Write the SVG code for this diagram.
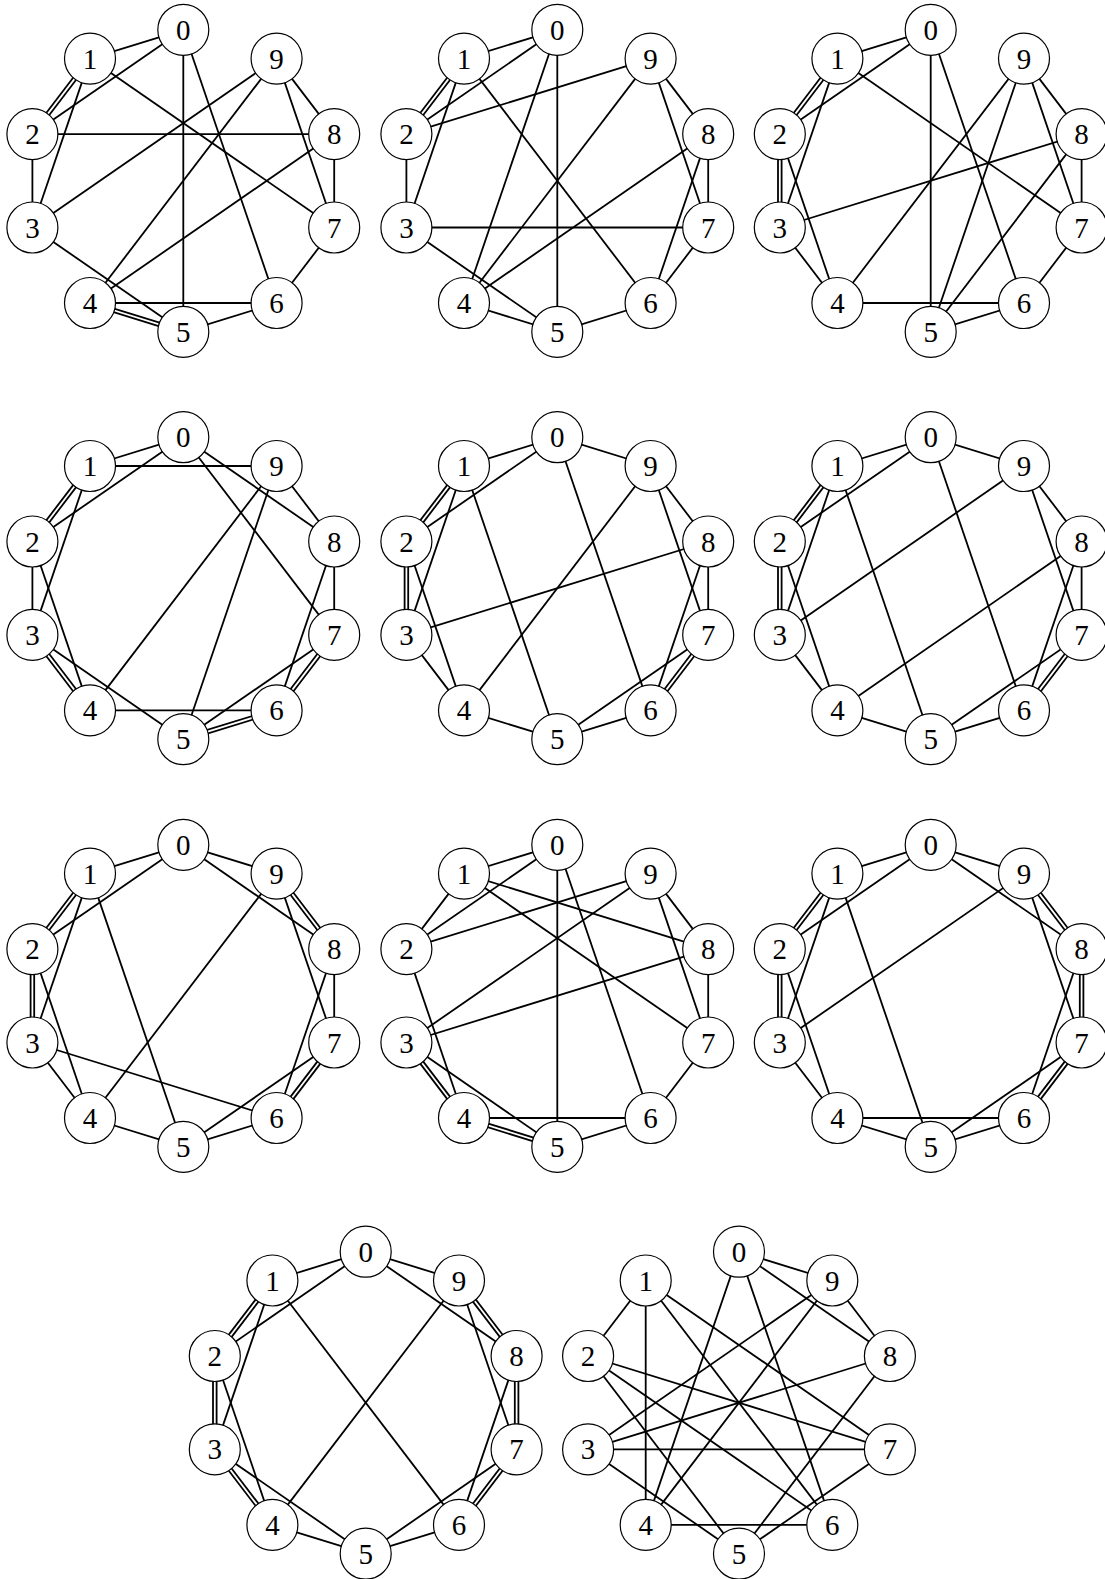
<svg xmlns="http://www.w3.org/2000/svg" width="1105" height="1579" viewBox="0 0 1105 1579">
<style>
.e{stroke:#000;stroke-width:1.8;fill:none}
circle{fill:#fff;stroke:#000;stroke-width:1.2}
text{font-family:"Liberation Serif","DejaVu Serif",serif;font-size:29px;text-anchor:middle;fill:#000}
</style>
<rect width="1105" height="1579" fill="#fff"/>

<!-- Graph 1 -->
<g id="graph1" transform="translate(183.3,180.8)">
<g id="graph1-edges">
<line class="e" x1="0" y1="-151" x2="-93.3" y2="-122.2"/>
<line class="e" x1="0" y1="-151" x2="-150.9" y2="-46.7"/>
<line class="e" x1="0" y1="-151" x2="0" y2="151"/>
<line class="e" x1="0" y1="-151" x2="93.3" y2="122.2"/>
<line class="e" x1="-93.3" y1="-122.2" x2="-150.9" y2="-46.7" transform="translate(1.43,1.09)"/>
<line class="e" x1="-93.3" y1="-122.2" x2="-150.9" y2="-46.7" transform="translate(-1.43,-1.09)"/>
<line class="e" x1="-93.3" y1="-122.2" x2="-150.9" y2="46.7"/>
<line class="e" x1="-93.3" y1="-122.2" x2="150.9" y2="46.7"/>
<line class="e" x1="-150.9" y1="-46.7" x2="-150.9" y2="46.7"/>
<line class="e" x1="-150.9" y1="-46.7" x2="150.9" y2="-46.7"/>
<line class="e" x1="-150.9" y1="46.7" x2="93.3" y2="-122.2"/>
<line class="e" x1="-150.9" y1="46.7" x2="0" y2="151"/>
<line class="e" x1="-93.3" y1="122.2" x2="93.3" y2="-122.2"/>
<line class="e" x1="-93.3" y1="122.2" x2="150.9" y2="-46.7"/>
<line class="e" x1="-93.3" y1="122.2" x2="93.3" y2="122.2"/>
<line class="e" x1="-93.3" y1="122.2" x2="0" y2="151" transform="translate(-0.53,1.72)"/>
<line class="e" x1="-93.3" y1="122.2" x2="0" y2="151" transform="translate(0.53,-1.72)"/>
<line class="e" x1="0" y1="151" x2="93.3" y2="122.2"/>
<line class="e" x1="93.3" y1="122.2" x2="150.9" y2="46.7"/>
<line class="e" x1="150.9" y1="46.7" x2="150.9" y2="-46.7"/>
<line class="e" x1="150.9" y1="46.7" x2="93.3" y2="-122.2"/>
<line class="e" x1="150.9" y1="-46.7" x2="93.3" y2="-122.2"/>
</g>
<g id="g1-n0" transform="translate(0,-151)"><circle r="25.5"/><text y="10">0</text></g>
<g id="g1-n1" transform="translate(-93.3,-122.2)"><circle r="25.5"/><text y="10">1</text></g>
<g id="g1-n2" transform="translate(-150.9,-46.7)"><circle r="25.5"/><text y="10">2</text></g>
<g id="g1-n3" transform="translate(-150.9,46.7)"><circle r="25.5"/><text y="10">3</text></g>
<g id="g1-n4" transform="translate(-93.3,122.2)"><circle r="25.5"/><text y="10">4</text></g>
<g id="g1-n5" transform="translate(0,151)"><circle r="25.5"/><text y="10">5</text></g>
<g id="g1-n6" transform="translate(93.3,122.2)"><circle r="25.5"/><text y="10">6</text></g>
<g id="g1-n7" transform="translate(150.9,46.7)"><circle r="25.5"/><text y="10">7</text></g>
<g id="g1-n8" transform="translate(150.9,-46.7)"><circle r="25.5"/><text y="10">8</text></g>
<g id="g1-n9" transform="translate(93.3,-122.2)"><circle r="25.5"/><text y="10">9</text></g>
</g>

<!-- Graph 2 -->
<g id="graph2" transform="translate(557.3,180.8)">
<g id="graph2-edges">
<line class="e" x1="0" y1="-151" x2="-93.3" y2="-122.2"/>
<line class="e" x1="0" y1="-151" x2="-150.9" y2="-46.7"/>
<line class="e" x1="0" y1="-151" x2="-93.3" y2="122.2"/>
<line class="e" x1="0" y1="-151" x2="0" y2="151"/>
<line class="e" x1="-93.3" y1="-122.2" x2="-150.9" y2="-46.7" transform="translate(1.43,1.09)"/>
<line class="e" x1="-93.3" y1="-122.2" x2="-150.9" y2="-46.7" transform="translate(-1.43,-1.09)"/>
<line class="e" x1="-93.3" y1="-122.2" x2="-150.9" y2="46.7"/>
<line class="e" x1="-93.3" y1="-122.2" x2="93.3" y2="122.2"/>
<line class="e" x1="-150.9" y1="-46.7" x2="93.3" y2="-122.2"/>
<line class="e" x1="-150.9" y1="-46.7" x2="-150.9" y2="46.7"/>
<line class="e" x1="-150.9" y1="46.7" x2="150.9" y2="46.7"/>
<line class="e" x1="-150.9" y1="46.7" x2="0" y2="151"/>
<line class="e" x1="-93.3" y1="122.2" x2="93.3" y2="-122.2"/>
<line class="e" x1="-93.3" y1="122.2" x2="150.9" y2="-46.7"/>
<line class="e" x1="-93.3" y1="122.2" x2="0" y2="151"/>
<line class="e" x1="0" y1="151" x2="93.3" y2="122.2"/>
<line class="e" x1="93.3" y1="122.2" x2="150.9" y2="-46.7"/>
<line class="e" x1="93.3" y1="122.2" x2="150.9" y2="46.7"/>
<line class="e" x1="150.9" y1="46.7" x2="150.9" y2="-46.7"/>
<line class="e" x1="150.9" y1="46.7" x2="93.3" y2="-122.2"/>
<line class="e" x1="150.9" y1="-46.7" x2="93.3" y2="-122.2"/>
</g>
<g id="g2-n0" transform="translate(0,-151)"><circle r="25.5"/><text y="10">0</text></g>
<g id="g2-n1" transform="translate(-93.3,-122.2)"><circle r="25.5"/><text y="10">1</text></g>
<g id="g2-n2" transform="translate(-150.9,-46.7)"><circle r="25.5"/><text y="10">2</text></g>
<g id="g2-n3" transform="translate(-150.9,46.7)"><circle r="25.5"/><text y="10">3</text></g>
<g id="g2-n4" transform="translate(-93.3,122.2)"><circle r="25.5"/><text y="10">4</text></g>
<g id="g2-n5" transform="translate(0,151)"><circle r="25.5"/><text y="10">5</text></g>
<g id="g2-n6" transform="translate(93.3,122.2)"><circle r="25.5"/><text y="10">6</text></g>
<g id="g2-n7" transform="translate(150.9,46.7)"><circle r="25.5"/><text y="10">7</text></g>
<g id="g2-n8" transform="translate(150.9,-46.7)"><circle r="25.5"/><text y="10">8</text></g>
<g id="g2-n9" transform="translate(93.3,-122.2)"><circle r="25.5"/><text y="10">9</text></g>
</g>

<!-- Graph 3 -->
<g id="graph3" transform="translate(930.7,180.8)">
<g id="graph3-edges">
<line class="e" x1="0" y1="-151" x2="-93.3" y2="-122.2"/>
<line class="e" x1="0" y1="-151" x2="-150.9" y2="-46.7"/>
<line class="e" x1="0" y1="-151" x2="0" y2="151"/>
<line class="e" x1="0" y1="-151" x2="93.3" y2="122.2"/>
<line class="e" x1="-93.3" y1="-122.2" x2="-150.9" y2="-46.7" transform="translate(1.43,1.09)"/>
<line class="e" x1="-93.3" y1="-122.2" x2="-150.9" y2="-46.7" transform="translate(-1.43,-1.09)"/>
<line class="e" x1="-93.3" y1="-122.2" x2="-150.9" y2="46.7"/>
<line class="e" x1="-93.3" y1="-122.2" x2="150.9" y2="46.7"/>
<line class="e" x1="-150.9" y1="-46.7" x2="-150.9" y2="46.7" transform="translate(1.8,0)"/>
<line class="e" x1="-150.9" y1="-46.7" x2="-150.9" y2="46.7" transform="translate(-1.8,0)"/>
<line class="e" x1="-150.9" y1="-46.7" x2="-93.3" y2="122.2"/>
<line class="e" x1="-150.9" y1="46.7" x2="-93.3" y2="122.2"/>
<line class="e" x1="-150.9" y1="46.7" x2="150.9" y2="-46.7"/>
<line class="e" x1="-93.3" y1="122.2" x2="93.3" y2="-122.2"/>
<line class="e" x1="-93.3" y1="122.2" x2="93.3" y2="122.2"/>
<line class="e" x1="0" y1="151" x2="93.3" y2="-122.2"/>
<line class="e" x1="0" y1="151" x2="150.9" y2="-46.7"/>
<line class="e" x1="0" y1="151" x2="93.3" y2="122.2"/>
<line class="e" x1="93.3" y1="122.2" x2="150.9" y2="46.7"/>
<line class="e" x1="150.9" y1="46.7" x2="150.9" y2="-46.7"/>
<line class="e" x1="150.9" y1="46.7" x2="93.3" y2="-122.2"/>
<line class="e" x1="150.9" y1="-46.7" x2="93.3" y2="-122.2"/>
</g>
<g id="g3-n0" transform="translate(0,-151)"><circle r="25.5"/><text y="10">0</text></g>
<g id="g3-n1" transform="translate(-93.3,-122.2)"><circle r="25.5"/><text y="10">1</text></g>
<g id="g3-n2" transform="translate(-150.9,-46.7)"><circle r="25.5"/><text y="10">2</text></g>
<g id="g3-n3" transform="translate(-150.9,46.7)"><circle r="25.5"/><text y="10">3</text></g>
<g id="g3-n4" transform="translate(-93.3,122.2)"><circle r="25.5"/><text y="10">4</text></g>
<g id="g3-n5" transform="translate(0,151)"><circle r="25.5"/><text y="10">5</text></g>
<g id="g3-n6" transform="translate(93.3,122.2)"><circle r="25.5"/><text y="10">6</text></g>
<g id="g3-n7" transform="translate(150.9,46.7)"><circle r="25.5"/><text y="10">7</text></g>
<g id="g3-n8" transform="translate(150.9,-46.7)"><circle r="25.5"/><text y="10">8</text></g>
<g id="g3-n9" transform="translate(93.3,-122.2)"><circle r="25.5"/><text y="10">9</text></g>
</g>

<!-- Graph 4 -->
<g id="graph4" transform="translate(183.3,588.2)">
<g id="graph4-edges">
<line class="e" x1="0" y1="-151" x2="-93.3" y2="-122.2"/>
<line class="e" x1="0" y1="-151" x2="-150.9" y2="-46.7"/>
<line class="e" x1="0" y1="-151" x2="150.9" y2="-46.7"/>
<line class="e" x1="0" y1="-151" x2="150.9" y2="46.7"/>
<line class="e" x1="-93.3" y1="-122.2" x2="93.3" y2="-122.2"/>
<line class="e" x1="-93.3" y1="-122.2" x2="-150.9" y2="-46.7" transform="translate(1.43,1.09)"/>
<line class="e" x1="-93.3" y1="-122.2" x2="-150.9" y2="-46.7" transform="translate(-1.43,-1.09)"/>
<line class="e" x1="-93.3" y1="-122.2" x2="-150.9" y2="46.7"/>
<line class="e" x1="-150.9" y1="-46.7" x2="-150.9" y2="46.7"/>
<line class="e" x1="-150.9" y1="-46.7" x2="-93.3" y2="122.2"/>
<line class="e" x1="-150.9" y1="46.7" x2="-93.3" y2="122.2" transform="translate(1.43,-1.09)"/>
<line class="e" x1="-150.9" y1="46.7" x2="-93.3" y2="122.2" transform="translate(-1.43,1.09)"/>
<line class="e" x1="-150.9" y1="46.7" x2="0" y2="151"/>
<line class="e" x1="-93.3" y1="122.2" x2="93.3" y2="-122.2"/>
<line class="e" x1="-93.3" y1="122.2" x2="93.3" y2="122.2"/>
<line class="e" x1="0" y1="151" x2="93.3" y2="-122.2"/>
<line class="e" x1="0" y1="151" x2="93.3" y2="122.2" transform="translate(0.53,1.72)"/>
<line class="e" x1="0" y1="151" x2="93.3" y2="122.2" transform="translate(-0.53,-1.72)"/>
<line class="e" x1="0" y1="151" x2="150.9" y2="46.7"/>
<line class="e" x1="93.3" y1="122.2" x2="150.9" y2="-46.7"/>
<line class="e" x1="93.3" y1="122.2" x2="150.9" y2="46.7" transform="translate(1.43,1.09)"/>
<line class="e" x1="93.3" y1="122.2" x2="150.9" y2="46.7" transform="translate(-1.43,-1.09)"/>
<line class="e" x1="150.9" y1="46.7" x2="150.9" y2="-46.7"/>
<line class="e" x1="150.9" y1="-46.7" x2="93.3" y2="-122.2"/>
</g>
<g id="g4-n0" transform="translate(0,-151)"><circle r="25.5"/><text y="10">0</text></g>
<g id="g4-n1" transform="translate(-93.3,-122.2)"><circle r="25.5"/><text y="10">1</text></g>
<g id="g4-n2" transform="translate(-150.9,-46.7)"><circle r="25.5"/><text y="10">2</text></g>
<g id="g4-n3" transform="translate(-150.9,46.7)"><circle r="25.5"/><text y="10">3</text></g>
<g id="g4-n4" transform="translate(-93.3,122.2)"><circle r="25.5"/><text y="10">4</text></g>
<g id="g4-n5" transform="translate(0,151)"><circle r="25.5"/><text y="10">5</text></g>
<g id="g4-n6" transform="translate(93.3,122.2)"><circle r="25.5"/><text y="10">6</text></g>
<g id="g4-n7" transform="translate(150.9,46.7)"><circle r="25.5"/><text y="10">7</text></g>
<g id="g4-n8" transform="translate(150.9,-46.7)"><circle r="25.5"/><text y="10">8</text></g>
<g id="g4-n9" transform="translate(93.3,-122.2)"><circle r="25.5"/><text y="10">9</text></g>
</g>

<!-- Graph 5 -->
<g id="graph5" transform="translate(557.3,588.2)">
<g id="graph5-edges">
<line class="e" x1="0" y1="-151" x2="-93.3" y2="-122.2"/>
<line class="e" x1="0" y1="-151" x2="93.3" y2="-122.2"/>
<line class="e" x1="0" y1="-151" x2="-150.9" y2="-46.7"/>
<line class="e" x1="0" y1="-151" x2="93.3" y2="122.2"/>
<line class="e" x1="-93.3" y1="-122.2" x2="-150.9" y2="-46.7" transform="translate(1.43,1.09)"/>
<line class="e" x1="-93.3" y1="-122.2" x2="-150.9" y2="-46.7" transform="translate(-1.43,-1.09)"/>
<line class="e" x1="-93.3" y1="-122.2" x2="-150.9" y2="46.7"/>
<line class="e" x1="-93.3" y1="-122.2" x2="0" y2="151"/>
<line class="e" x1="-150.9" y1="-46.7" x2="-150.9" y2="46.7" transform="translate(1.8,0)"/>
<line class="e" x1="-150.9" y1="-46.7" x2="-150.9" y2="46.7" transform="translate(-1.8,0)"/>
<line class="e" x1="-150.9" y1="-46.7" x2="-93.3" y2="122.2"/>
<line class="e" x1="-150.9" y1="46.7" x2="150.9" y2="-46.7"/>
<line class="e" x1="-150.9" y1="46.7" x2="-93.3" y2="122.2"/>
<line class="e" x1="-93.3" y1="122.2" x2="93.3" y2="-122.2"/>
<line class="e" x1="-93.3" y1="122.2" x2="0" y2="151"/>
<line class="e" x1="0" y1="151" x2="93.3" y2="122.2"/>
<line class="e" x1="0" y1="151" x2="150.9" y2="46.7"/>
<line class="e" x1="93.3" y1="122.2" x2="150.9" y2="-46.7"/>
<line class="e" x1="93.3" y1="122.2" x2="150.9" y2="46.7" transform="translate(1.43,1.09)"/>
<line class="e" x1="93.3" y1="122.2" x2="150.9" y2="46.7" transform="translate(-1.43,-1.09)"/>
<line class="e" x1="150.9" y1="46.7" x2="150.9" y2="-46.7"/>
<line class="e" x1="150.9" y1="46.7" x2="93.3" y2="-122.2"/>
<line class="e" x1="150.9" y1="-46.7" x2="93.3" y2="-122.2"/>
</g>
<g id="g5-n0" transform="translate(0,-151)"><circle r="25.5"/><text y="10">0</text></g>
<g id="g5-n1" transform="translate(-93.3,-122.2)"><circle r="25.5"/><text y="10">1</text></g>
<g id="g5-n2" transform="translate(-150.9,-46.7)"><circle r="25.5"/><text y="10">2</text></g>
<g id="g5-n3" transform="translate(-150.9,46.7)"><circle r="25.5"/><text y="10">3</text></g>
<g id="g5-n4" transform="translate(-93.3,122.2)"><circle r="25.5"/><text y="10">4</text></g>
<g id="g5-n5" transform="translate(0,151)"><circle r="25.5"/><text y="10">5</text></g>
<g id="g5-n6" transform="translate(93.3,122.2)"><circle r="25.5"/><text y="10">6</text></g>
<g id="g5-n7" transform="translate(150.9,46.7)"><circle r="25.5"/><text y="10">7</text></g>
<g id="g5-n8" transform="translate(150.9,-46.7)"><circle r="25.5"/><text y="10">8</text></g>
<g id="g5-n9" transform="translate(93.3,-122.2)"><circle r="25.5"/><text y="10">9</text></g>
</g>

<!-- Graph 6 -->
<g id="graph6" transform="translate(930.7,588.2)">
<g id="graph6-edges">
<line class="e" x1="0" y1="-151" x2="-93.3" y2="-122.2"/>
<line class="e" x1="0" y1="-151" x2="93.3" y2="-122.2"/>
<line class="e" x1="0" y1="-151" x2="-150.9" y2="-46.7"/>
<line class="e" x1="0" y1="-151" x2="93.3" y2="122.2"/>
<line class="e" x1="-93.3" y1="-122.2" x2="-150.9" y2="-46.7" transform="translate(1.43,1.09)"/>
<line class="e" x1="-93.3" y1="-122.2" x2="-150.9" y2="-46.7" transform="translate(-1.43,-1.09)"/>
<line class="e" x1="-93.3" y1="-122.2" x2="-150.9" y2="46.7"/>
<line class="e" x1="-93.3" y1="-122.2" x2="0" y2="151"/>
<line class="e" x1="-150.9" y1="-46.7" x2="-150.9" y2="46.7" transform="translate(1.8,0)"/>
<line class="e" x1="-150.9" y1="-46.7" x2="-150.9" y2="46.7" transform="translate(-1.8,0)"/>
<line class="e" x1="-150.9" y1="-46.7" x2="-93.3" y2="122.2"/>
<line class="e" x1="-150.9" y1="46.7" x2="93.3" y2="-122.2"/>
<line class="e" x1="-150.9" y1="46.7" x2="-93.3" y2="122.2"/>
<line class="e" x1="-93.3" y1="122.2" x2="150.9" y2="-46.7"/>
<line class="e" x1="-93.3" y1="122.2" x2="0" y2="151"/>
<line class="e" x1="0" y1="151" x2="93.3" y2="122.2"/>
<line class="e" x1="0" y1="151" x2="150.9" y2="46.7"/>
<line class="e" x1="93.3" y1="122.2" x2="150.9" y2="-46.7"/>
<line class="e" x1="93.3" y1="122.2" x2="150.9" y2="46.7" transform="translate(1.43,1.09)"/>
<line class="e" x1="93.3" y1="122.2" x2="150.9" y2="46.7" transform="translate(-1.43,-1.09)"/>
<line class="e" x1="150.9" y1="46.7" x2="150.9" y2="-46.7"/>
<line class="e" x1="150.9" y1="46.7" x2="93.3" y2="-122.2"/>
<line class="e" x1="150.9" y1="-46.7" x2="93.3" y2="-122.2"/>
</g>
<g id="g6-n0" transform="translate(0,-151)"><circle r="25.5"/><text y="10">0</text></g>
<g id="g6-n1" transform="translate(-93.3,-122.2)"><circle r="25.5"/><text y="10">1</text></g>
<g id="g6-n2" transform="translate(-150.9,-46.7)"><circle r="25.5"/><text y="10">2</text></g>
<g id="g6-n3" transform="translate(-150.9,46.7)"><circle r="25.5"/><text y="10">3</text></g>
<g id="g6-n4" transform="translate(-93.3,122.2)"><circle r="25.5"/><text y="10">4</text></g>
<g id="g6-n5" transform="translate(0,151)"><circle r="25.5"/><text y="10">5</text></g>
<g id="g6-n6" transform="translate(93.3,122.2)"><circle r="25.5"/><text y="10">6</text></g>
<g id="g6-n7" transform="translate(150.9,46.7)"><circle r="25.5"/><text y="10">7</text></g>
<g id="g6-n8" transform="translate(150.9,-46.7)"><circle r="25.5"/><text y="10">8</text></g>
<g id="g6-n9" transform="translate(93.3,-122.2)"><circle r="25.5"/><text y="10">9</text></g>
</g>

<!-- Graph 7 -->
<g id="graph7" transform="translate(183.3,995.8)">
<g id="graph7-edges">
<line class="e" x1="0" y1="-151" x2="-93.3" y2="-122.2"/>
<line class="e" x1="0" y1="-151" x2="93.3" y2="-122.2"/>
<line class="e" x1="0" y1="-151" x2="-150.9" y2="-46.7"/>
<line class="e" x1="0" y1="-151" x2="150.9" y2="-46.7"/>
<line class="e" x1="-93.3" y1="-122.2" x2="-150.9" y2="-46.7" transform="translate(1.43,1.09)"/>
<line class="e" x1="-93.3" y1="-122.2" x2="-150.9" y2="-46.7" transform="translate(-1.43,-1.09)"/>
<line class="e" x1="-93.3" y1="-122.2" x2="-150.9" y2="46.7"/>
<line class="e" x1="-93.3" y1="-122.2" x2="0" y2="151"/>
<line class="e" x1="-150.9" y1="-46.7" x2="-150.9" y2="46.7" transform="translate(1.8,0)"/>
<line class="e" x1="-150.9" y1="-46.7" x2="-150.9" y2="46.7" transform="translate(-1.8,0)"/>
<line class="e" x1="-150.9" y1="-46.7" x2="-93.3" y2="122.2"/>
<line class="e" x1="-150.9" y1="46.7" x2="-93.3" y2="122.2"/>
<line class="e" x1="-150.9" y1="46.7" x2="93.3" y2="122.2"/>
<line class="e" x1="-93.3" y1="122.2" x2="93.3" y2="-122.2"/>
<line class="e" x1="-93.3" y1="122.2" x2="0" y2="151"/>
<line class="e" x1="0" y1="151" x2="93.3" y2="122.2"/>
<line class="e" x1="0" y1="151" x2="150.9" y2="46.7"/>
<line class="e" x1="93.3" y1="122.2" x2="150.9" y2="-46.7"/>
<line class="e" x1="93.3" y1="122.2" x2="150.9" y2="46.7" transform="translate(1.43,1.09)"/>
<line class="e" x1="93.3" y1="122.2" x2="150.9" y2="46.7" transform="translate(-1.43,-1.09)"/>
<line class="e" x1="150.9" y1="46.7" x2="150.9" y2="-46.7"/>
<line class="e" x1="150.9" y1="46.7" x2="93.3" y2="-122.2"/>
<line class="e" x1="150.9" y1="-46.7" x2="93.3" y2="-122.2" transform="translate(1.43,-1.09)"/>
<line class="e" x1="150.9" y1="-46.7" x2="93.3" y2="-122.2" transform="translate(-1.43,1.09)"/>
</g>
<g id="g7-n0" transform="translate(0,-151)"><circle r="25.5"/><text y="10">0</text></g>
<g id="g7-n1" transform="translate(-93.3,-122.2)"><circle r="25.5"/><text y="10">1</text></g>
<g id="g7-n2" transform="translate(-150.9,-46.7)"><circle r="25.5"/><text y="10">2</text></g>
<g id="g7-n3" transform="translate(-150.9,46.7)"><circle r="25.5"/><text y="10">3</text></g>
<g id="g7-n4" transform="translate(-93.3,122.2)"><circle r="25.5"/><text y="10">4</text></g>
<g id="g7-n5" transform="translate(0,151)"><circle r="25.5"/><text y="10">5</text></g>
<g id="g7-n6" transform="translate(93.3,122.2)"><circle r="25.5"/><text y="10">6</text></g>
<g id="g7-n7" transform="translate(150.9,46.7)"><circle r="25.5"/><text y="10">7</text></g>
<g id="g7-n8" transform="translate(150.9,-46.7)"><circle r="25.5"/><text y="10">8</text></g>
<g id="g7-n9" transform="translate(93.3,-122.2)"><circle r="25.5"/><text y="10">9</text></g>
</g>

<!-- Graph 8 -->
<g id="graph8" transform="translate(557.3,995.8)">
<g id="graph8-edges">
<line class="e" x1="0" y1="-151" x2="-93.3" y2="-122.2"/>
<line class="e" x1="0" y1="-151" x2="-150.9" y2="-46.7"/>
<line class="e" x1="0" y1="-151" x2="0" y2="151"/>
<line class="e" x1="0" y1="-151" x2="93.3" y2="122.2"/>
<line class="e" x1="-93.3" y1="-122.2" x2="-150.9" y2="-46.7"/>
<line class="e" x1="-93.3" y1="-122.2" x2="150.9" y2="-46.7"/>
<line class="e" x1="-93.3" y1="-122.2" x2="150.9" y2="46.7"/>
<line class="e" x1="-150.9" y1="-46.7" x2="93.3" y2="-122.2"/>
<line class="e" x1="-150.9" y1="-46.7" x2="-93.3" y2="122.2"/>
<line class="e" x1="-150.9" y1="46.7" x2="93.3" y2="-122.2"/>
<line class="e" x1="-150.9" y1="46.7" x2="150.9" y2="-46.7"/>
<line class="e" x1="-150.9" y1="46.7" x2="-93.3" y2="122.2" transform="translate(1.43,-1.09)"/>
<line class="e" x1="-150.9" y1="46.7" x2="-93.3" y2="122.2" transform="translate(-1.43,1.09)"/>
<line class="e" x1="-150.9" y1="46.7" x2="0" y2="151"/>
<line class="e" x1="-93.3" y1="122.2" x2="93.3" y2="122.2"/>
<line class="e" x1="-93.3" y1="122.2" x2="0" y2="151" transform="translate(-0.53,1.72)"/>
<line class="e" x1="-93.3" y1="122.2" x2="0" y2="151" transform="translate(0.53,-1.72)"/>
<line class="e" x1="0" y1="151" x2="93.3" y2="122.2"/>
<line class="e" x1="93.3" y1="122.2" x2="150.9" y2="46.7"/>
<line class="e" x1="150.9" y1="46.7" x2="150.9" y2="-46.7"/>
<line class="e" x1="150.9" y1="46.7" x2="93.3" y2="-122.2"/>
<line class="e" x1="150.9" y1="-46.7" x2="93.3" y2="-122.2"/>
</g>
<g id="g8-n0" transform="translate(0,-151)"><circle r="25.5"/><text y="10">0</text></g>
<g id="g8-n1" transform="translate(-93.3,-122.2)"><circle r="25.5"/><text y="10">1</text></g>
<g id="g8-n2" transform="translate(-150.9,-46.7)"><circle r="25.5"/><text y="10">2</text></g>
<g id="g8-n3" transform="translate(-150.9,46.7)"><circle r="25.5"/><text y="10">3</text></g>
<g id="g8-n4" transform="translate(-93.3,122.2)"><circle r="25.5"/><text y="10">4</text></g>
<g id="g8-n5" transform="translate(0,151)"><circle r="25.5"/><text y="10">5</text></g>
<g id="g8-n6" transform="translate(93.3,122.2)"><circle r="25.5"/><text y="10">6</text></g>
<g id="g8-n7" transform="translate(150.9,46.7)"><circle r="25.5"/><text y="10">7</text></g>
<g id="g8-n8" transform="translate(150.9,-46.7)"><circle r="25.5"/><text y="10">8</text></g>
<g id="g8-n9" transform="translate(93.3,-122.2)"><circle r="25.5"/><text y="10">9</text></g>
</g>

<!-- Graph 9 -->
<g id="graph9" transform="translate(930.7,995.8)">
<g id="graph9-edges">
<line class="e" x1="0" y1="-151" x2="-93.3" y2="-122.2"/>
<line class="e" x1="0" y1="-151" x2="93.3" y2="-122.2"/>
<line class="e" x1="0" y1="-151" x2="-150.9" y2="-46.7"/>
<line class="e" x1="0" y1="-151" x2="150.9" y2="-46.7"/>
<line class="e" x1="-93.3" y1="-122.2" x2="-150.9" y2="-46.7" transform="translate(1.43,1.09)"/>
<line class="e" x1="-93.3" y1="-122.2" x2="-150.9" y2="-46.7" transform="translate(-1.43,-1.09)"/>
<line class="e" x1="-93.3" y1="-122.2" x2="-150.9" y2="46.7"/>
<line class="e" x1="-93.3" y1="-122.2" x2="0" y2="151"/>
<line class="e" x1="-150.9" y1="-46.7" x2="-150.9" y2="46.7" transform="translate(1.8,0)"/>
<line class="e" x1="-150.9" y1="-46.7" x2="-150.9" y2="46.7" transform="translate(-1.8,0)"/>
<line class="e" x1="-150.9" y1="-46.7" x2="-93.3" y2="122.2"/>
<line class="e" x1="-150.9" y1="46.7" x2="93.3" y2="-122.2"/>
<line class="e" x1="-150.9" y1="46.7" x2="-93.3" y2="122.2"/>
<line class="e" x1="-93.3" y1="122.2" x2="93.3" y2="122.2"/>
<line class="e" x1="-93.3" y1="122.2" x2="0" y2="151"/>
<line class="e" x1="0" y1="151" x2="93.3" y2="122.2"/>
<line class="e" x1="0" y1="151" x2="150.9" y2="46.7"/>
<line class="e" x1="93.3" y1="122.2" x2="150.9" y2="-46.7"/>
<line class="e" x1="93.3" y1="122.2" x2="150.9" y2="46.7" transform="translate(1.43,1.09)"/>
<line class="e" x1="93.3" y1="122.2" x2="150.9" y2="46.7" transform="translate(-1.43,-1.09)"/>
<line class="e" x1="150.9" y1="46.7" x2="150.9" y2="-46.7" transform="translate(1.8,0)"/>
<line class="e" x1="150.9" y1="46.7" x2="150.9" y2="-46.7" transform="translate(-1.8,0)"/>
<line class="e" x1="150.9" y1="46.7" x2="93.3" y2="-122.2"/>
<line class="e" x1="150.9" y1="-46.7" x2="93.3" y2="-122.2" transform="translate(1.43,-1.09)"/>
<line class="e" x1="150.9" y1="-46.7" x2="93.3" y2="-122.2" transform="translate(-1.43,1.09)"/>
</g>
<g id="g9-n0" transform="translate(0,-151)"><circle r="25.5"/><text y="10">0</text></g>
<g id="g9-n1" transform="translate(-93.3,-122.2)"><circle r="25.5"/><text y="10">1</text></g>
<g id="g9-n2" transform="translate(-150.9,-46.7)"><circle r="25.5"/><text y="10">2</text></g>
<g id="g9-n3" transform="translate(-150.9,46.7)"><circle r="25.5"/><text y="10">3</text></g>
<g id="g9-n4" transform="translate(-93.3,122.2)"><circle r="25.5"/><text y="10">4</text></g>
<g id="g9-n5" transform="translate(0,151)"><circle r="25.5"/><text y="10">5</text></g>
<g id="g9-n6" transform="translate(93.3,122.2)"><circle r="25.5"/><text y="10">6</text></g>
<g id="g9-n7" transform="translate(150.9,46.7)"><circle r="25.5"/><text y="10">7</text></g>
<g id="g9-n8" transform="translate(150.9,-46.7)"><circle r="25.5"/><text y="10">8</text></g>
<g id="g9-n9" transform="translate(93.3,-122.2)"><circle r="25.5"/><text y="10">9</text></g>
</g>

<!-- Graph 10 -->
<g id="graph10" transform="translate(365.7,1402.7)">
<g id="graph10-edges">
<line class="e" x1="0" y1="-151" x2="-93.3" y2="-122.2"/>
<line class="e" x1="0" y1="-151" x2="93.3" y2="-122.2"/>
<line class="e" x1="0" y1="-151" x2="-150.9" y2="-46.7"/>
<line class="e" x1="0" y1="-151" x2="150.9" y2="-46.7"/>
<line class="e" x1="-93.3" y1="-122.2" x2="-150.9" y2="-46.7" transform="translate(1.43,1.09)"/>
<line class="e" x1="-93.3" y1="-122.2" x2="-150.9" y2="-46.7" transform="translate(-1.43,-1.09)"/>
<line class="e" x1="-93.3" y1="-122.2" x2="-150.9" y2="46.7"/>
<line class="e" x1="-93.3" y1="-122.2" x2="93.3" y2="122.2"/>
<line class="e" x1="-150.9" y1="-46.7" x2="-150.9" y2="46.7" transform="translate(1.8,0)"/>
<line class="e" x1="-150.9" y1="-46.7" x2="-150.9" y2="46.7" transform="translate(-1.8,0)"/>
<line class="e" x1="-150.9" y1="-46.7" x2="-93.3" y2="122.2"/>
<line class="e" x1="-150.9" y1="46.7" x2="-93.3" y2="122.2" transform="translate(1.43,-1.09)"/>
<line class="e" x1="-150.9" y1="46.7" x2="-93.3" y2="122.2" transform="translate(-1.43,1.09)"/>
<line class="e" x1="-150.9" y1="46.7" x2="0" y2="151"/>
<line class="e" x1="-93.3" y1="122.2" x2="93.3" y2="-122.2"/>
<line class="e" x1="-93.3" y1="122.2" x2="0" y2="151"/>
<line class="e" x1="0" y1="151" x2="93.3" y2="122.2"/>
<line class="e" x1="0" y1="151" x2="150.9" y2="46.7"/>
<line class="e" x1="93.3" y1="122.2" x2="150.9" y2="-46.7"/>
<line class="e" x1="93.3" y1="122.2" x2="150.9" y2="46.7" transform="translate(1.43,1.09)"/>
<line class="e" x1="93.3" y1="122.2" x2="150.9" y2="46.7" transform="translate(-1.43,-1.09)"/>
<line class="e" x1="150.9" y1="46.7" x2="150.9" y2="-46.7" transform="translate(1.8,0)"/>
<line class="e" x1="150.9" y1="46.7" x2="150.9" y2="-46.7" transform="translate(-1.8,0)"/>
<line class="e" x1="150.9" y1="46.7" x2="93.3" y2="-122.2"/>
<line class="e" x1="150.9" y1="-46.7" x2="93.3" y2="-122.2" transform="translate(1.43,-1.09)"/>
<line class="e" x1="150.9" y1="-46.7" x2="93.3" y2="-122.2" transform="translate(-1.43,1.09)"/>
</g>
<g id="g10-n0" transform="translate(0,-151)"><circle r="25.5"/><text y="10">0</text></g>
<g id="g10-n1" transform="translate(-93.3,-122.2)"><circle r="25.5"/><text y="10">1</text></g>
<g id="g10-n2" transform="translate(-150.9,-46.7)"><circle r="25.5"/><text y="10">2</text></g>
<g id="g10-n3" transform="translate(-150.9,46.7)"><circle r="25.5"/><text y="10">3</text></g>
<g id="g10-n4" transform="translate(-93.3,122.2)"><circle r="25.5"/><text y="10">4</text></g>
<g id="g10-n5" transform="translate(0,151)"><circle r="25.5"/><text y="10">5</text></g>
<g id="g10-n6" transform="translate(93.3,122.2)"><circle r="25.5"/><text y="10">6</text></g>
<g id="g10-n7" transform="translate(150.9,46.7)"><circle r="25.5"/><text y="10">7</text></g>
<g id="g10-n8" transform="translate(150.9,-46.7)"><circle r="25.5"/><text y="10">8</text></g>
<g id="g10-n9" transform="translate(93.3,-122.2)"><circle r="25.5"/><text y="10">9</text></g>
</g>

<!-- Graph 11 -->
<g id="graph11" transform="translate(739,1402.7)">
<g id="graph11-edges">
<line class="e" x1="0" y1="-151" x2="93.3" y2="-122.2"/>
<line class="e" x1="0" y1="-151" x2="150.9" y2="-46.7"/>
<line class="e" x1="0" y1="-151" x2="-93.3" y2="122.2"/>
<line class="e" x1="0" y1="-151" x2="93.3" y2="122.2"/>
<line class="e" x1="-93.3" y1="-122.2" x2="-150.9" y2="-46.7"/>
<line class="e" x1="-93.3" y1="-122.2" x2="-93.3" y2="122.2"/>
<line class="e" x1="-93.3" y1="-122.2" x2="150.9" y2="46.7"/>
<line class="e" x1="-93.3" y1="-122.2" x2="93.3" y2="122.2"/>
<line class="e" x1="-150.9" y1="-46.7" x2="150.9" y2="46.7"/>
<line class="e" x1="-150.9" y1="-46.7" x2="93.3" y2="122.2"/>
<line class="e" x1="-150.9" y1="-46.7" x2="0" y2="151"/>
<line class="e" x1="-150.9" y1="46.7" x2="93.3" y2="-122.2"/>
<line class="e" x1="-150.9" y1="46.7" x2="150.9" y2="-46.7"/>
<line class="e" x1="-150.9" y1="46.7" x2="150.9" y2="46.7"/>
<line class="e" x1="-150.9" y1="46.7" x2="0" y2="151"/>
<line class="e" x1="-93.3" y1="122.2" x2="93.3" y2="-122.2"/>
<line class="e" x1="-93.3" y1="122.2" x2="93.3" y2="122.2"/>
<line class="e" x1="0" y1="151" x2="150.9" y2="-46.7"/>
<line class="e" x1="0" y1="151" x2="150.9" y2="46.7"/>
<line class="e" x1="150.9" y1="-46.7" x2="93.3" y2="-122.2"/>
</g>
<g id="g11-n0" transform="translate(0,-151)"><circle r="25.5"/><text y="10">0</text></g>
<g id="g11-n1" transform="translate(-93.3,-122.2)"><circle r="25.5"/><text y="10">1</text></g>
<g id="g11-n2" transform="translate(-150.9,-46.7)"><circle r="25.5"/><text y="10">2</text></g>
<g id="g11-n3" transform="translate(-150.9,46.7)"><circle r="25.5"/><text y="10">3</text></g>
<g id="g11-n4" transform="translate(-93.3,122.2)"><circle r="25.5"/><text y="10">4</text></g>
<g id="g11-n5" transform="translate(0,151)"><circle r="25.5"/><text y="10">5</text></g>
<g id="g11-n6" transform="translate(93.3,122.2)"><circle r="25.5"/><text y="10">6</text></g>
<g id="g11-n7" transform="translate(150.9,46.7)"><circle r="25.5"/><text y="10">7</text></g>
<g id="g11-n8" transform="translate(150.9,-46.7)"><circle r="25.5"/><text y="10">8</text></g>
<g id="g11-n9" transform="translate(93.3,-122.2)"><circle r="25.5"/><text y="10">9</text></g>
</g>
</svg>
